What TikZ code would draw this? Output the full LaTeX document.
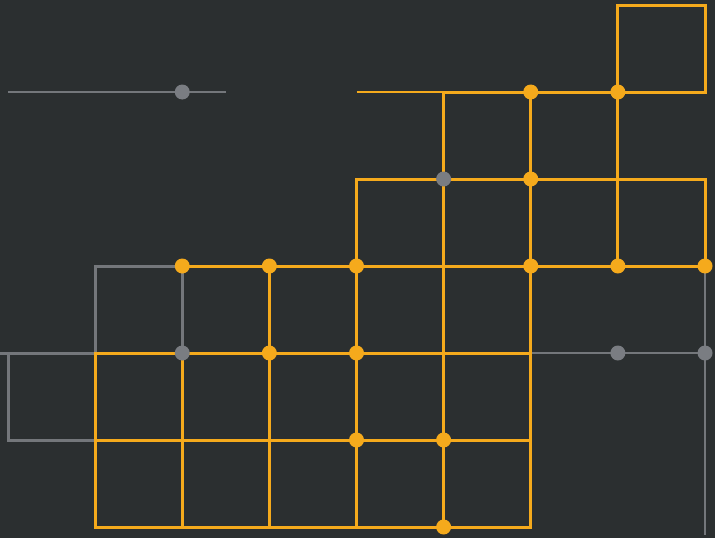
\documentclass[tikz,border=0pt]{standalone}
\definecolor{bg}{HTML}{2B2F30}
\definecolor{org}{HTML}{F5AA1C}
\definecolor{gr}{HTML}{74777B}
\definecolor{grd}{HTML}{7A7D82}
\begin{document}
\begin{tikzpicture}[x=1pt,y=-1pt,
  oline/.style={draw=org,line width=3pt,line join=miter,line cap=rect},
  othin/.style={draw=org,line width=1.5pt},
  gline/.style={draw=gr,line width=3pt,line join=miter},
  gthin/.style={draw=gr,line width=1.5pt},
  odot/.style={circle,fill=org,inner sep=0pt,minimum size=15pt},
  gdot/.style={circle,fill=grd,inner sep=0pt,minimum size=15pt}]
\fill[bg] (0,0) rectangle (715,538);
\useasboundingbox (0,0) rectangle (715,538);
\foreach \i in {0,...,8}{\foreach \j in {0,...,6}{\coordinate (p\i\j) at ({8+87.125*\i},{5+87*\j});}}
\coordinate (gR) at (226,92);
\coordinate (sL) at (0,353);
\coordinate (vB) at (705,535);
% gray lines
\draw[gthin] (p01) -- (gR);
\draw[gline] (p14) -- (p13) -- (p23) -- (p24);
\draw[gline] (sL) -- (p14);
\draw[gline] (p04) -- (p05) -- (p15);
\draw[gthin] (p64) -- (p84);
\draw[gthin] (p83) -- (vB);
% orange lines
\draw[othin] (p41) -- (p51);
\draw[oline] (p51) -- (p81);
\draw[oline] (p71) -- (p70) -- (p80) -- (p81);
\draw[oline] (p71) -- (p73);
\draw[oline] (p61) -- (p66);
\draw[oline] (p51) -- (p56);
\draw[oline] (p42) -- (p82) -- (p83);
\draw[oline] (p42) -- (p46);
\draw[oline] (p23) -- (p83);
\draw[oline] (p33) -- (p36);
\draw[oline] (p24) -- (p26);
\draw[oline] (p14) -- (p64);
\draw[oline] (p14) -- (p16);
\draw[oline] (p15) -- (p65);
\draw[oline] (p16) -- (p66);
% dots
\foreach \p in {61,71,62,23,33,43,63,73,83,34,44,45,55,56}{\node[odot] (d\p) at (p\p) {};}
\foreach \p in {21,52,24,74,84}{\node[gdot] (g\p) at (p\p) {};}
\end{tikzpicture}
\end{document}
